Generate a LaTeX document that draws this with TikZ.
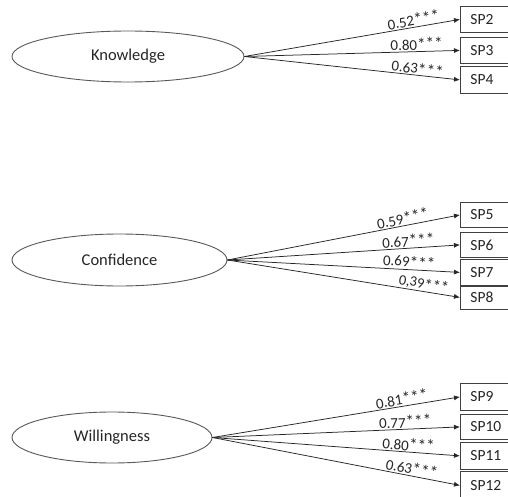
\documentclass[tikz,border=0pt]{standalone}
\usepackage{fontspec}
\setmainfont{Carlito}
\usetikzlibrary{shapes.geometric,arrows.meta}
\newcommand{\stars}{\scalebox{1.15}{***}}
\newcommand{\lowstars}{\smash{\raisebox{-0.3ex}{\scalebox{1.15}{***}}}}
\begin{document}
\begin{tikzpicture}[x=1pt,y=-1pt,
  latent/.style={ellipse,draw=black!65,line width=0.9pt,inner sep=0pt,
    font=\fontsize{16.5}{18}\selectfont,text=black!85},
  ind/.style={rectangle,draw=black!75,line width=0.8pt,anchor=north west,
    minimum width=60pt,text width=40pt,align=left,inner xsep=8pt,
    font=\fontsize{15.5}{17}\selectfont,text=black!85},
  path/.style={draw=black!85,line width=0.75pt,-{Latex[length=6pt,width=5pt]}},
  lbl/.style={sloped,above=1pt,inner sep=0pt,font=\fontsize{15}{17}\selectfont,text=black!85}
]
\useasboundingbox (0,0) rectangle (508,497);
\fill[white] (0,0) rectangle (508,497);

% Knowledge
\node[latent,minimum width=232pt,minimum height=51pt] (K) at (128,56.5) {Knowledge};
\node[ind,minimum height=26pt] (sp2) at (460,6) {SP2};
\node[ind,minimum height=26pt] (sp3) at (460,37) {SP3};
\node[ind,minimum height=27pt] (sp4) at (460,66) {SP4};
\draw[path] (K.east) -- node[lbl,pos=0.79] {0.52\stars} (sp2.west);
\draw[path] (K.east) -- node[lbl,pos=0.80] {0.80\stars} (sp3.west);
\draw[path] (K.east) -- node[lbl,pos=0.80] {0.63\lowstars} (sp4.west);

% Confidence
\node[latent,minimum width=215pt,minimum height=52pt] (C) at (119.5,260) {Confidence};
\node[ind,minimum height=25pt] (sp5) at (460,202) {SP5};
\node[ind,minimum height=25pt] (sp6) at (460,232) {SP6};
\node[ind,minimum height=27pt] (sp7) at (460,258.5) {SP7};
\node[ind,minimum height=24pt] (sp8) at (460,285) {SP8};
\draw[path] (C.east) -- node[lbl,pos=0.76] {0.59\stars} (sp5.west);
\draw[path] (C.east) -- node[lbl,pos=0.78] {0.67\stars} (sp6.west);
\draw[path] (C.east) -- node[lbl,pos=0.78,above=1.5pt] {0.69\lowstars} (sp7.west);
\draw[path] (C.east) -- node[lbl,pos=0.84,above=0pt,font=\fontsize{14.5}{16}\selectfont] {0,39\lowstars} (sp8.west);

% Willingness
\node[latent,minimum width=200pt,minimum height=51pt] (W) at (112,437.5) {Willingness};
\node[ind,minimum height=27pt] (sp9) at (460,383) {SP9};
\node[ind,minimum height=25pt] (sp10) at (460,414) {SP10};
\node[ind,minimum height=27pt] (sp11) at (460,442) {SP11};
\node[ind,minimum height=28pt] (sp12) at (460,471) {SP12};
\draw[path] (W.east) -- node[lbl,pos=0.77] {0.81\stars} (sp9.west);
\draw[path] (W.east) -- node[lbl,pos=0.78] {0.77\stars} (sp10.west);
\draw[path] (W.east) -- node[lbl,pos=0.79] {0.80\stars} (sp11.west);
\draw[path] (W.east) -- node[lbl,pos=0.80] {0.63\stars} (sp12.west);
\end{tikzpicture}
\end{document}
